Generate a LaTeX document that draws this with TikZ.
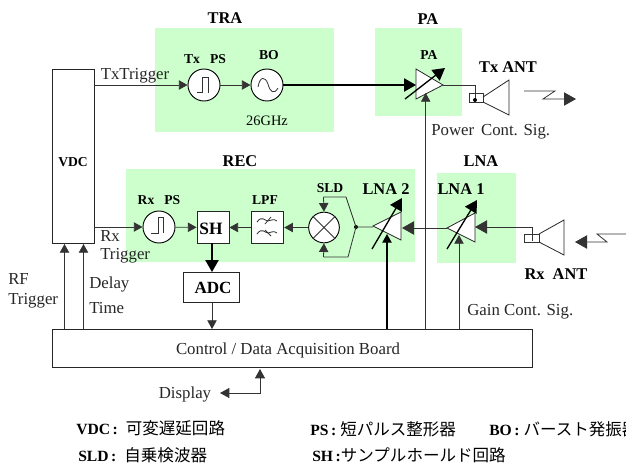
\documentclass[tikz,border=0pt]{standalone}
\usepackage{fontspec}
\setmainfont{Liberation Serif}
\newfontfamily\jpf{Noto Sans CJK JP}
\usetikzlibrary{arrows.meta}
\definecolor{gr}{RGB}{204,255,204}
\tikzset{
 x=0.75pt,y=-0.75pt,
 zone/.style={fill=gr,draw=none},
 tip/.style={-{Triangle[length=6.5pt,width=7pt]}},
 tipb/.style={-{Triangle[length=9pt,width=10pt]}},
 line/.style={draw=black!80,line width=0.6pt},
 thickl/.style={draw=black,line width=1pt},
 blk/.style={draw=black!85,line width=0.6pt,fill=white},
 lab/.style={font=\fontsize{12.6pt}{14pt}\selectfont,text=black!85,inner sep=0pt},
 bl/.style={font=\fontsize{10.2pt}{12pt}\selectfont\bfseries,inner sep=0pt},
 blg/.style={font=\fontsize{12.3pt}{14pt}\selectfont\bfseries,inner sep=0pt},
 jt/.style={font=\fontsize{11.7pt}{14pt}\selectfont,inner sep=0pt,anchor=base west},
 circ/.style={circle,draw=black,line width=0.7pt,fill=white,minimum size=24pt,inner sep=0pt},
}
\newcommand{\jp}[1]{{\jpf\fontsize{12.4pt}{14pt}\selectfont #1}}
\begin{document}
\begin{tikzpicture}
\useasboundingbox (0,0) rectangle (626,465);
% zones
\fill[zone] (155,28) rectangle (334,132);
\fill[zone] (375,28) rectangle (462,116);
\fill[zone] (126,169) rectangle (415,262);
\fill[zone] (437,173) rectangle (516,263);
% boxes
\node[blk,minimum width=31.5pt,minimum height=130.5pt,inner sep=0pt] (vdc) at (73,156) {};
\node[bl] (vdcl) at (73,162) {VDC};
\node[blk,minimum width=360pt,minimum height=28.5pt,inner sep=0pt] (board) at (292,348) {};
\node[lab] (boardl) at (288,350) {Control / Data Acquisition Board};
\node[blk,minimum width=42.5pt,minimum height=23pt,inner sep=0pt] (adc) at (211.5,287.5) {};
\node[blg,font=\fontsize{12.8pt}{14pt}\selectfont\bfseries] (adcl) at (213,288) {ADC};
\node[blk,minimum width=24pt,minimum height=23.5pt,inner sep=0pt] (sh) at (213,227.5) {};
\node[blg,font=\fontsize{13pt}{14pt}\selectfont\bfseries] (shl) at (211,229) {SH};
\node[blk,minimum width=24.5pt,minimum height=23.5pt,inner sep=0pt] (lpf) at (267.5,227.5) {};
% circles
\node[circ] (txps) at (204,85) {};
\node[circ] (bo) at (267,85) {};
\node[circ] (rxps) at (159,227) {};
\node[circ,minimum size=23pt] (sld) at (324,227.5) {};
% amps
\coordinate (pain) at (416,85);
\coordinate (paout) at (443,85);
\draw[blk] (416,69) -- (443,85) -- (416,99) -- cycle;
\coordinate (l1in) at (475,227);
\coordinate (l1out) at (447,228);
\draw[blk] (475,213) -- (447,228) -- (475,242) -- cycle;
\coordinate (l2in) at (402,228);
\coordinate (l2out) at (373,226);
\draw[blk] (401,212) -- (373,226) -- (401,240) -- cycle;
% variable arrows
\coordinate (pav0) at (405,99); \coordinate (pav1) at (445,68);
\draw[thickl,tipb] (pav0) -- (pav1);
\coordinate (l1v0) at (447,249); \coordinate (l1v1) at (477,200);
\draw[thickl,tipb] (l1v0) -- (l1v1);
\coordinate (l2v0) at (372,249); \coordinate (l2v1) at (402,198);
\draw[thickl,tipb] (l2v0) -- (l2v1);
% pulse & symbols
\draw[line] (197,92.5) -- (202,92.5) -- (202,77) -- (208,77) -- (208,93);
\draw[line] (151,233) -- (158,233) -- (158,217) -- (163,217) -- (163,233);
\draw[line] (258,87) .. controls (260,76) and (265,76) .. (268,84) .. controls (270,92) and (274,95) .. (278,88);
\draw[line] (257,222) .. controls (262,215) and (265,221) .. (268,221) .. controls (271,221) and (273,218) .. (277,221);
\draw[line] (257,234) .. controls (262,227) and (265,233) .. (268,233) .. controls (271,233) and (273,230) .. (277,233);
\draw[line] (265,224) -- (271,217);
\draw[line] (265,230) -- (271,236);
\draw[line] (sld.45) -- (sld.225) (sld.135) -- (sld.315);
% connectors
\draw[line,tip] (vdc.east |- txps) -- (txps);
\draw[line,tip] (txps) -- (bo);
\draw[thickl,tipb] (bo) -- (pain);
\draw[line] (paout) -- (475,85) -- (475,100);
\fill (475,100) circle (1.5pt);
\draw[line,tip] (vdc.east |- rxps) -- (rxps);
\draw[line,tip] (rxps) -- (sh);
\draw[line,tip] (lpf) -- (sh);
\draw[line,tip] (sld) -- (lpf);
\draw[thickl,tipb] (212,243) -- (212,272);
\draw[line,tip] (212,303) -- (212,329);
\draw[line,tip] (64.5,329) -- (64.5,244);
\draw[line,tip] (83.5,329) -- (83.5,244);
\draw[line,tip] (425.7,329) -- (425.7,93);
\draw[thickl,tip] (387,329) -- (387,234);
\draw[line,tip] (459,329) -- (459,235);
\draw[line,tipb] (l1out) -- (l2in);
\draw[line,tipb] (532,241) -- (532,227) -- (l1in);
% SLD fork
\fill (356,227) circle (1.5pt);
\draw[line] (373,227) -- (356,227) -- (346,197) -- (323.5,197);
\draw[line] (356,227) -- (348,257) -- (323.5,257);
\draw[line,tip] (323.5,197) -- (sld.north);
\draw[line,tip] (323.5,257) -- (sld.south);
% antennas
\draw[line] (469,93) rectangle (483,102);
\draw[blk,fill=none] (483,97) -- (509,80) -- (509,115) -- (483,102);
\draw[line] (524,234) rectangle (539,242);
\draw[blk,fill=none] (539,234) -- (564,220) -- (564,255) -- (539,242);
% lightning
\draw[line,tipb] (524,91) -- (555,91) -- (543,99) -- (576,99);
\draw[line,tipb] (626,234) -- (597,234) -- (607,242) -- (575,242);
% display
\draw[line,{Triangle[length=7pt,width=7.5pt]}-{Triangle[length=7pt,width=7.5pt]}] (220,393) -- (260,393) -- (260,369);
% labels
\node[blg] (tra) at (225,18) {TRA};
\node[blg] (pa) at (428,19) {PA};
\node[bl] (pa2) at (429,55) {PA};
\node[bl] (txps1) at (205,59) {Tx\hspace{5pt} PS};
\node[bl] (bo1) at (269,55) {BO};
\node[lab,font=\fontsize{10.8pt}{12pt}\selectfont,text=black] (ghz) at (267,121) {26GHz};
\node[blg] (txant) at (508,67) {Tx ANT};
\node[lab,anchor=west] (pcs) at (431,132) {Power\hspace{2pt} Cont. Sig.};
\node[lab] (txt) at (135,76) {TxTrigger};
\node[blg] (rec) at (240,161) {REC};
\node[blg] (lna) at (481,161) {LNA};
\node[blg] (lna1) at (461,189) {LNA 1};
\node[blg] (lna2) at (386,189) {LNA 2};
\node[bl] (sldl) at (330,188) {SLD};
\node[bl] (lpfl) at (265,200) {LPF};
\node[bl] (rxpsl) at (159,200) {Rx\hspace{5pt} PS};
\node[blg] (rxant) at (556,274) {Rx\hspace{3pt} ANT};
\node[lab,anchor=west] (gcs) at (467,312) {Gain Cont. Sig.};
\node[lab,anchor=west] (rx1) at (100,236) {Rx};
\node[lab,anchor=west] (rx2) at (100,256) {Trigger};
\node[lab,anchor=west] (rf1) at (8,279) {RF};
\node[lab,anchor=west] (rf2) at (8,301) {Trigger};
\node[lab,anchor=west] (dl1) at (89,284) {Delay};
\node[lab,anchor=west] (dl2) at (89,308) {Time};
\node[lab] (disp) at (185,394) {Display};
\node[jt] (j1) at (76,434) {\textbf{VDC\,:}\hspace{6pt}\jp{可変遅延回路}};
\node[jt] (j2) at (78,461) {\textbf{SLD\,:}\hspace{6pt}\jp{自乗検波器}};
\node[jt] (j3) at (310,435) {\textbf{PS\,:}\hspace{3pt}\jp{短パルス整形器}};
\node[jt] (j4) at (489,435) {\textbf{BO\,:}\hspace{3pt}\jp{バースト発振器}};
\node[jt] (j5) at (312,461) {\textbf{SH\,:}\jp{サンプルホールド回路}};
\end{tikzpicture}
\end{document}
